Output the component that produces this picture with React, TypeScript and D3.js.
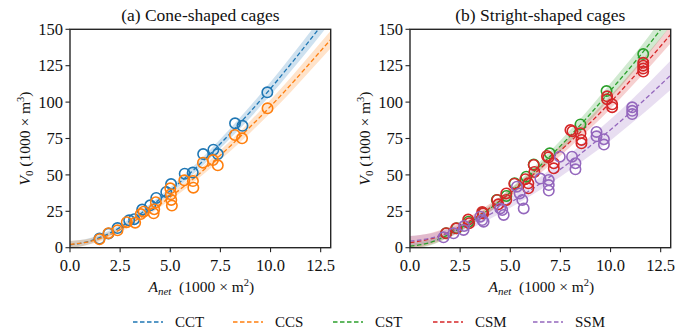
import React from "react";
import * as d3 from "d3";

// ---------- data ----------
const fitX = [0, 1, 2, 3, 4, 5, 6, 7, 8, 9, 10, 11, 12, 13];

// panel (a) fitted curves and half-band widths
const cctFit = [2.0, 4.6, 10.1, 18.4, 28.2, 39.2, 51.3, 64.5, 78.6, 93.5, 109.3, 126, 143.2, 161];
const cctBand = [2.5, 2.0, 1.8, 1.8, 2.0, 2.2, 2.5, 3.0, 3.5, 4.0, 4.5, 5.0, 5.5, 6.0];
const ccsFit = [2.2, 4.3, 9.0, 16.5, 25.2, 34.9, 45.6, 57.4, 69.9, 83.2, 97.1, 111.8, 127.3, 143];
const ccsBand = [2.5, 2.0, 1.8, 1.8, 2.0, 2.2, 2.5, 3.0, 3.5, 4.0, 4.5, 5.0, 5.5, 6.0];

// panel (b) fitted curves and half-band widths
const cstFit = [1.0, 3.5, 9.5, 17.5, 27, 38, 50, 63, 77, 92, 108, 124, 141, 159];
const cstBand = [2.0, 2.0, 2.0, 2.0, 2.2, 2.5, 3.0, 3.5, 4.0, 4.5, 5.0, 5.5, 6.0, 6.5];
const csmFit = [3.5, 6.0, 11, 18.5, 27.5, 37.5, 48.5, 60.5, 73, 86, 100, 115, 130.5, 146.5];
const csmBand = [4.5, 4.0, 3.5, 3.0, 2.8, 2.8, 3.0, 3.3, 3.7, 4.0, 4.5, 5.0, 5.5, 6.0];
const ssmFit = [4.5, 6.5, 10.5, 16, 23, 31, 39.5, 49, 59, 70, 81, 93, 105.5, 118.5];
const ssmBand = [3.5, 3.2, 3.0, 3.0, 3.2, 3.5, 4.0, 4.8, 5.5, 6.5, 7.3, 8.0, 9.0, 10.0];

// observations, panel (a)
const cctX = [1.47, 1.92, 2.37, 2.95, 3.2, 3.6, 4.0, 4.3, 4.8, 5.04, 5.72, 6.12, 6.64, 7.15, 7.37, 8.23, 8.6, 9.84];
const cctY = [6.3, 9.7, 13.5, 18.8, 19.6, 26.2, 29.1, 34.2, 38.3, 43.7, 50.8, 51.6, 64.3, 67.3, 64.3, 85.4, 83.7, 106.7];
const ccsX = [1.47, 1.92, 2.37, 2.83, 3.25, 3.53, 3.67, 4.17, 4.2, 4.28, 5.0, 5.03, 5.05, 5.08, 5.7, 6.13, 6.15, 6.63, 7.13, 7.37, 8.22, 8.58, 9.85];
const ccsY = [5.8, 10.0, 11.9, 17.5, 17.2, 23.1, 24.7, 23.6, 26.4, 31.2, 40.8, 36.7, 32.8, 28.9, 46.3, 45.8, 41.2, 58.4, 60.2, 56.6, 77.4, 75.1, 95.7];

// observations, panel (b)
const cstX = [1.8, 2.33, 2.92, 3.63, 4.33, 4.8, 5.22, 5.8, 6.17, 6.97, 8.5, 9.8, 11.63];
const cstY = [10, 13.4, 17.9, 24, 32.8, 35.5, 44.2, 48.8, 57.2, 64.8, 84.7, 107.6, 133];
const csmX = [1.8, 2.3, 2.9, 2.95, 3.6, 3.65, 4.35, 4.4, 4.8, 4.8, 5.2, 5.75, 5.9, 5.9, 6.17, 6.2, 6.83, 6.9, 7.17, 7.17, 8.0, 8.1, 8.5, 8.55, 8.55, 9.83, 9.83, 10.08, 10.08, 11.63, 11.63, 11.63, 11.63];
const csmY = [10, 13.3, 19.3, 16.8, 24.5, 23.5, 32.8, 29.8, 37.3, 32.8, 44, 47, 44.2, 40.8, 56.8, 52, 63, 62, 58, 54.5, 80.8, 80, 78.6, 74, 71.7, 104, 102, 98.5, 96.5, 127, 125, 123, 121];
const ssmX = [1.67, 2.17, 2.67, 2.7, 3.5, 3.6, 3.67, 4.5, 4.6, 4.67, 5.33, 5.47, 5.6, 5.67, 6.5, 6.92, 6.92, 6.92, 7.47, 8.08, 8.25, 8.25, 9.3, 9.3, 9.67, 9.67, 11.08, 11.08, 11.08];
const ssmY = [7.1, 9.9, 12.2, 14.9, 21.3, 19, 17.9, 27, 25.9, 22.5, 41.9, 37.3, 32.8, 27, 47.5, 46.5, 43, 39.2, 62.5, 62.5, 58, 53.8, 79.5, 76.5, 74.5, 70.8, 96.4, 94, 91.8];

const xTicks = [0, 2.5, 5, 7.5, 10, 12.5];
const xTickLabels = ["0.0", "2.5", "5.0", "7.5", "10.0", "12.5"];
const yTicks = [0, 25, 50, 75, 100, 125, 150];
const yTickLabels = ["0", "25", "50", "75", "100", "125", "150"];

const legendNames = ["CCT", "CCS", "CST", "CSM", "SSM"];
const panelTitles = ["(a) Cone-shaped cages", "(b) Stright-shaped cages"];

// ---------- styling ----------
const COLORS: Record<string, string> = {
  CCT: "#1f77b4",
  CCS: "#ff7f0e",
  CST: "#2ca02c",
  CSM: "#d62728",
  SSM: "#9467bd",
};
const FONT = "'Liberation Serif', 'Times New Roman', serif";
const AXIS = "#262626";

type Series = { name: string; fit: number[]; band: number[]; xs: number[]; ys: number[] };

const panelSeries: Series[][] = [
  [
    { name: "CCT", fit: cctFit, band: cctBand, xs: cctX, ys: cctY },
    { name: "CCS", fit: ccsFit, band: ccsBand, xs: ccsX, ys: ccsY },
  ],
  [
    { name: "CST", fit: cstFit, band: cstBand, xs: cstX, ys: cstY },
    { name: "CSM", fit: csmFit, band: csmBand, xs: csmX, ys: csmY },
    { name: "SSM", fit: ssmFit, band: ssmBand, xs: ssmX, ys: ssmY },
  ],
];

const PANEL_LEFT = [70, 410];
const PANEL_W = 260.7;
const TOP = 29.3;
const BOTTOM = 247.7;

function Panel({ idx }: { idx: number }) {
  const left = PANEL_LEFT[idx];
  const right = left + PANEL_W;
  const x = d3.scaleLinear().domain([0, 13]).range([left, right]);
  const y = d3.scaleLinear().domain([0, 150]).range([BOTTOM, TOP]);
  const clipId = `clip-${idx}`;
  const series = panelSeries[idx];

  const line = d3
    .line<number>()
    .x((_, i) => x(fitX[i]))
    .y((d) => y(d))
    .curve(d3.curveMonotoneX);

  const area = (s: Series) =>
    d3
      .area<number>()
      .x((_, i) => x(fitX[i]))
      .y0((d, i) => y(d - s.band[i]))
      .y1((d, i) => y(d + s.band[i]))
      .curve(d3.curveMonotoneX)(s.fit) || "";

  const cx = (left + right) / 2;

  return (
    <g>
      <defs>
        <clipPath id={clipId}>
          <rect x={left} y={TOP} width={right - left} height={BOTTOM - TOP} />
        </clipPath>
      </defs>
      <g clipPath={`url(#${clipId})`}>
        {series.map((s) => (
          <path key={s.name + "b"} d={area(s)} fill={COLORS[s.name]} fillOpacity={0.22} stroke="none" />
        ))}
        {series.map((s) => (
          <path
            key={s.name + "l"}
            d={line(s.fit) || ""}
            fill="none"
            stroke={COLORS[s.name]}
            strokeWidth={1.3}
            strokeDasharray="4.5,2.5"
          />
        ))}
        {series.map((s) => (
          <g key={s.name + "p"}>
            {s.xs.map((xv, i) => (
              <circle
                key={i}
                cx={x(xv)}
                cy={y(s.ys[i])}
                r={5.2}
                fill="none"
                stroke={COLORS[s.name]}
                strokeWidth={1.6}
              />
            ))}
          </g>
        ))}
      </g>
      {/* frame */}
      <rect x={left} y={TOP} width={right - left} height={BOTTOM - TOP} fill="none" stroke={AXIS} strokeWidth={1.4} />
      {/* x ticks */}
      {xTicks.map((t, i) => (
        <g key={"xt" + i}>
          <line x1={x(t)} x2={x(t)} y1={BOTTOM} y2={BOTTOM + 4.5} stroke={AXIS} strokeWidth={1.1} />
          <text x={x(t)} y={BOTTOM + 23} textAnchor="middle" fontSize={16.5} fontFamily={FONT} fill="#111">
            {xTickLabels[i]}
          </text>
        </g>
      ))}
      {/* y ticks */}
      {yTicks.map((t, i) => (
        <g key={"yt" + i}>
          <line x1={left - 4.5} x2={left} y1={y(t)} y2={y(t)} stroke={AXIS} strokeWidth={1.1} />
          <text x={left - 7} y={y(t)} dy="0.34em" textAnchor="end" fontSize={16.5} fontFamily={FONT} fill="#111">
            {yTickLabels[i]}
          </text>
        </g>
      ))}
      {/* title */}
      <text x={cx} y={21} textAnchor="middle" fontSize={17.5} fontFamily={FONT} fill="#111">
        {panelTitles[idx]}
      </text>
      {/* x label */}
      <text x={cx + 1} y={292} textAnchor="middle" fontSize={15.5} fontFamily={FONT} fill="#111">
        <tspan fontStyle="italic">A</tspan>
        <tspan fontStyle="italic" fontSize={11} dy={3}>net</tspan>
        <tspan dy={-3}>{"\u2002(1000 × m"}</tspan>
        <tspan fontSize={10.5} dy={-6}>2</tspan>
        <tspan dy={6}>)</tspan>
      </text>
      {/* y label */}
      <text
        transform={`translate(${left - 40},${(TOP + BOTTOM) / 2}) rotate(-90)`}
        textAnchor="middle"
        fontSize={15.5}
        fontFamily={FONT}
        fill="#111"
      >
        <tspan fontStyle="italic">V</tspan>
        <tspan fontSize={11} dy={3}>0</tspan>
        <tspan dy={-3}>{" (1000 × m"}</tspan>
        <tspan fontSize={10.5} dy={-6}>3</tspan>
        <tspan dy={6}>)</tspan>
      </text>
    </g>
  );
}

function Legend() {
  const x0 = 133;
  const step = 100;
  const yc = 322;
  return (
    <g>
      {legendNames.map((n, i) => {
        const lx = x0 + i * step;
        return (
          <g key={n}>
            <line x1={lx} x2={lx + 30} y1={yc} y2={yc} stroke={COLORS[n]} strokeWidth={1.3} strokeDasharray="4.5,2.5" />
            <text x={lx + 42} y={yc} dy="0.34em" fontSize={15} fontFamily={FONT} fill="#111">
              {n}
            </text>
          </g>
        );
      })}
    </g>
  );
}

export default function App() {
  return (
    <svg
      width={688}
      height={333}
      viewBox="0 0 688 333"
      style={{ position: "absolute", left: 0, top: 0, background: "#fff" }}
    >
      <rect width={688} height={333} fill="#fff" />
      <Panel idx={0} />
      <Panel idx={1} />
      <Legend />
    </svg>
  );
}
